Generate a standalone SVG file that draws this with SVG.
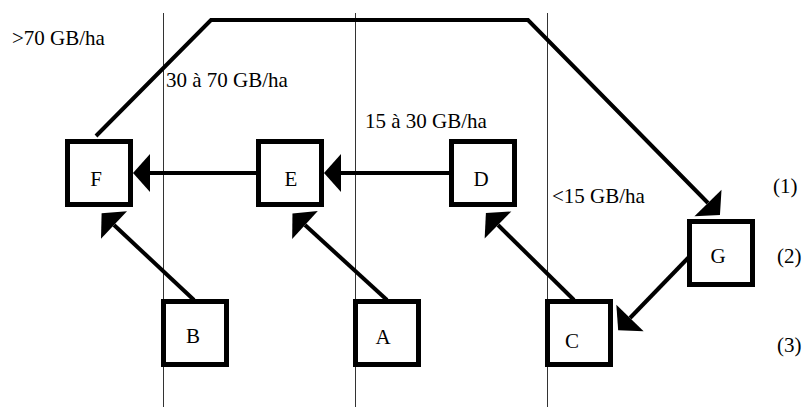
<svg xmlns="http://www.w3.org/2000/svg" width="804" height="409" viewBox="0 0 804 409">
<style>
.bg{fill:#fff}
.div{stroke:#333;stroke-width:1;fill:none}
.box{fill:#fff;stroke:#000;stroke-width:5}
.lbl{font-family:"Liberation Serif","Times New Roman",serif;font-size:21px;fill:#000}
.nl{font-family:"Liberation Serif","Times New Roman",serif;font-size:21px;fill:#000;text-anchor:middle}
.con{fill:none;stroke:#000;stroke-width:4;stroke-linejoin:miter}
</style>
<defs>
<marker id="ah" viewBox="0 -19 17 38" refX="0" refY="0" markerWidth="17" markerHeight="38" markerUnits="userSpaceOnUse" orient="auto" overflow="visible">
<path d="M0,-19 L17,0 L0,19 Z" fill="#000"/>
</marker>
</defs>
<rect class="bg" x="0" y="0" width="804" height="409"/>
<g id="dividers">
<line class="div" x1="163.5" y1="13" x2="163.5" y2="407"/>
<line class="div" x1="355.5" y1="13" x2="355.5" y2="407"/>
<line class="div" x1="547.5" y1="13" x2="547.5" y2="407"/>
</g>
<g id="zone-labels">
<text class="lbl" x="12" y="45">&gt;70 GB/ha</text>
<text class="lbl" x="166" y="87">30 à 70 GB/ha</text>
<text class="lbl" x="365" y="128">15 à 30 GB/ha</text>
<text class="lbl" x="552" y="203">&lt;15 GB/ha</text>
<text class="lbl" x="773" y="193">(1)</text>
<text class="lbl" x="777" y="263">(2)</text>
<text class="lbl" x="777" y="352">(3)</text>
</g>
<g id="connectors">
<path class="con" d="M256,173 L150,173" marker-end="url(#ah)"/>
<path class="con" d="M449,173 L341,173" marker-end="url(#ah)"/>
<path class="con" d="M194,300 L114,225" marker-end="url(#ah)"/>
<path class="con" d="M387,300 L305,225" marker-end="url(#ah)"/>
<path class="con" d="M574,300 L498,225" marker-end="url(#ah)"/>
<path class="con" d="M689,257 L630,318" marker-end="url(#ah)"/>
<path class="con" d="M96,136 L211,20 L528,20 L708,203" marker-end="url(#ah)"/>
</g>
<g id="node-F"><rect class="box" x="67.5" y="141.5" width="63" height="63"/><text class="nl" x="96" y="186">F</text></g>
<g id="node-E"><rect class="box" x="258.5" y="141.5" width="63" height="63"/><text class="nl" x="291" y="186">E</text></g>
<g id="node-D"><rect class="box" x="451.5" y="141.5" width="63" height="63"/><text class="nl" x="481" y="186">D</text></g>
<g id="node-G"><rect class="box" x="689.5" y="221.5" width="63" height="63"/><text class="nl" x="718" y="263">G</text></g>
<g id="node-B"><rect class="box" x="163.5" y="301.5" width="63" height="63"/><text class="nl" x="193" y="343">B</text></g>
<g id="node-A"><rect class="box" x="355.5" y="301.5" width="63" height="63"/><text class="nl" x="383" y="344">A</text></g>
<g id="node-C"><rect class="box" x="547.5" y="301.5" width="63" height="63"/><text class="nl" x="572" y="348">C</text></g>
</svg>
